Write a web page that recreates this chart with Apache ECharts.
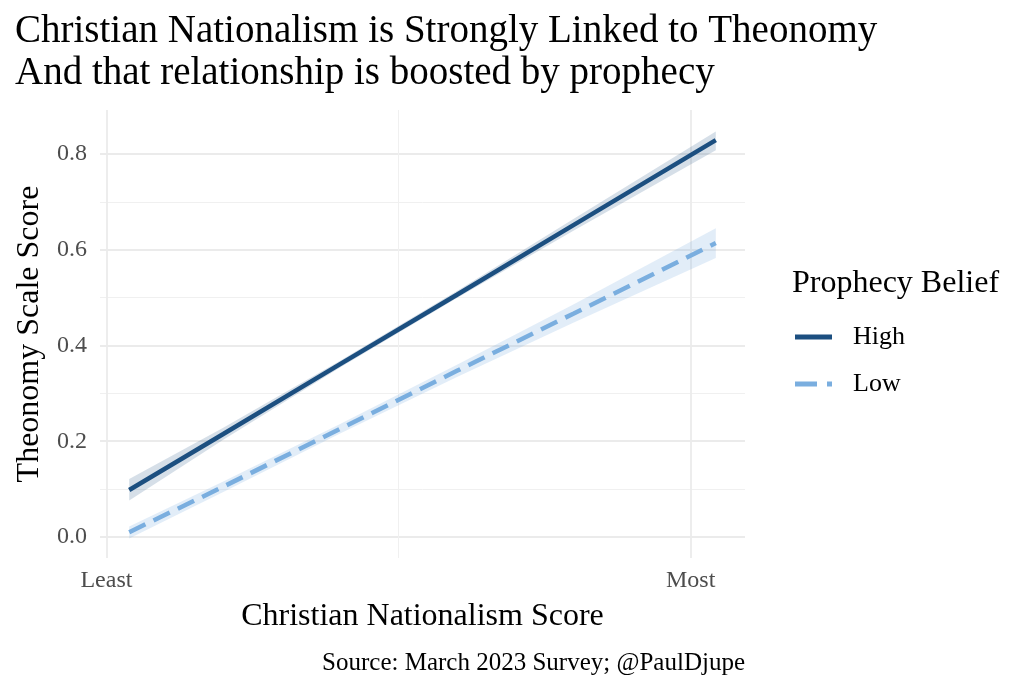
<!DOCTYPE html>
<html>
<head>
<meta charset="utf-8">
<title>Christian Nationalism and Theonomy</title>
<script src="https://cdn.jsdelivr.net/npm/echarts@6/dist/echarts.min.js"></script>
<style>
  html, body { margin: 0; padding: 0; background: #ffffff; }
  #chart { width: 1024px; height: 693px; }
</style>
</head>
<body>
<div id="chart"></div>
<script>
// Christian nationalism score (0 = Least, 1 = Most)
const cnScore = [0.039, 0.2, 0.4, 0.6, 0.8, 1.043];

// High prophecy belief: fitted line + ribbon
const highFit = [0.098, 0.215, 0.361, 0.506, 0.652, 0.829];
const highLo  = [0.076, 0.203, 0.354, 0.499, 0.640, 0.808];
const highHi  = [0.121, 0.228, 0.368, 0.514, 0.665, 0.847];

// Low prophecy belief: fitted line + ribbon
const lowFit = [0.010, 0.105, 0.226, 0.347, 0.467, 0.614];
const lowLo  = [-0.003, 0.094, 0.216, 0.334, 0.448, 0.583];
const lowHi  = [0.022, 0.116, 0.236, 0.360, 0.486, 0.645];

// axis ticks
const xTickValues = [0, 1];
const xTickLabels = ['Least', 'Most'];
const xMinorTicks = [0.5];
const yTickValues = [0, 0.2, 0.4, 0.6, 0.8];
const yMinorTicks = [0.1, 0.3, 0.5, 0.7];

const FONT = "'Liberation Serif', 'DejaVu Serif', serif";
const HIGH = '#1c4f80';
const LOW = '#7aaedf';

function pairs(xs, ys) {
  return xs.map((x, i) => [x, ys[i]]);
}

// confidence ribbon drawn as one polygon through the axes' scales
function ribbon(lo, hi, color) {
  return {
    type: 'custom', silent: true, z: 1,
    data: cnScore.map((x, i) => [x, lo[i], hi[i]]),
    encode: { x: 0, y: [1, 2] },
    renderItem: (params, api) => {
      if (params.dataIndex !== 0) return;
      const upper = cnScore.map((x, i) => api.coord([x, hi[i]]));
      const lower = cnScore.map((x, i) => api.coord([x, lo[i]])).reverse();
      return {
        type: 'polygon',
        shape: { points: upper.concat(lower) },
        style: { fill: color }
      };
    }
  };
}

const chart = echarts.init(document.getElementById('chart'));

chart.setOption({
  backgroundColor: '#ffffff',
  animation: false,
  title: [
    {
      text: 'Christian Nationalism is Strongly Linked to Theonomy\nAnd that relationship is boosted by prophecy',
      left: 15, top: 11, padding: 0,
      textStyle: { fontFamily: FONT, fontSize: 39, fontWeight: 'normal', color: '#000', lineHeight: 42 }
    },
    {
      text: 'Prophecy Belief',
      left: 792, top: 268, padding: 0,
      textStyle: { fontFamily: FONT, fontSize: 32, fontWeight: 'normal', color: '#000' }
    },
    {
      text: 'Source: March 2023 Survey; @PaulDjupe',
      right: 279, top: 651, padding: 0,
      textStyle: { fontFamily: FONT, fontSize: 25, fontWeight: 'normal', color: '#000' }
    }
  ],
  legend: {
    data: [
      { name: 'High', icon: 'path://M0,0H37V5H0Z' },
      { name: 'Low', icon: 'path://M0,0H22V5H0Z M32,0H37V5H32Z' }
    ],
    orient: 'vertical',
    left: 795, top: 324, padding: 0,
    itemWidth: 37, itemHeight: 5, itemGap: 21,
    itemStyle: { borderWidth: 0 },
    textStyle: { fontFamily: FONT, fontSize: 26, color: '#000', padding: [0, 0, 0, 16] }
  },
  grid: { left: 100, right: 279, top: 110, bottom: 135 },
  xAxis: [
    {
      type: 'value', min: -0.011, max: 1.093,
      name: 'Christian Nationalism Score', nameLocation: 'middle', nameGap: 43,
      nameTextStyle: { fontFamily: FONT, fontSize: 32, color: '#000' },
      axisLine: { show: false },
      axisTick: { show: false, customValues: xTickValues },
      axisLabel: {
        customValues: xTickValues, margin: 11,
        fontFamily: FONT, fontSize: 24, color: '#4d4d4d',
        formatter: v => xTickLabels[xTickValues.indexOf(v)]
      },
      splitLine: { show: true, lineStyle: { color: '#ebebeb', width: 1.8 } }
    },
    {
      type: 'value', min: -0.011, max: 1.093,
      axisLine: { show: false },
      axisTick: { show: false, customValues: xMinorTicks },
      axisLabel: { show: false, customValues: xMinorTicks },
      splitLine: { show: true, lineStyle: { color: '#f0f0f0', width: 1 } }
    }
  ],
  yAxis: [
    {
      type: 'value', min: -0.044, max: 0.892,
      name: 'Theonomy Scale Score', nameLocation: 'middle', nameGap: 54,
      nameTextStyle: { fontFamily: FONT, fontSize: 32, color: '#000' },
      axisLine: { show: false },
      axisTick: { show: false, customValues: yTickValues },
      axisLabel: {
        customValues: yTickValues, margin: 13,
        fontFamily: FONT, fontSize: 24, color: '#4d4d4d',
        formatter: v => v.toFixed(1)
      },
      splitLine: { show: true, lineStyle: { color: '#ebebeb', width: 1.8 } }
    },
    {
      type: 'value', min: -0.044, max: 0.892, position: 'left',
      axisLine: { show: false },
      axisTick: { show: false, customValues: yMinorTicks },
      axisLabel: { show: false, customValues: yMinorTicks },
      splitLine: { show: true, lineStyle: { color: '#f0f0f0', width: 1 } }
    }
  ],
  series: [
    ribbon(highLo, highHi, 'rgba(28,79,128,0.18)'),
    ribbon(lowLo, lowHi, 'rgba(122,174,223,0.22)'),
    {
      name: 'High', type: 'line', symbol: 'none', data: pairs(cnScore, highFit),
      lineStyle: { color: HIGH, width: 4.5 }, itemStyle: { color: HIGH }, z: 3
    },
    {
      name: 'Low', type: 'line', symbol: 'none', data: pairs(cnScore, lowFit),
      lineStyle: { color: LOW, width: 4.5, type: [18, 9] }, itemStyle: { color: LOW }, z: 3
    }
  ]
});
</script>
</body>
</html>
